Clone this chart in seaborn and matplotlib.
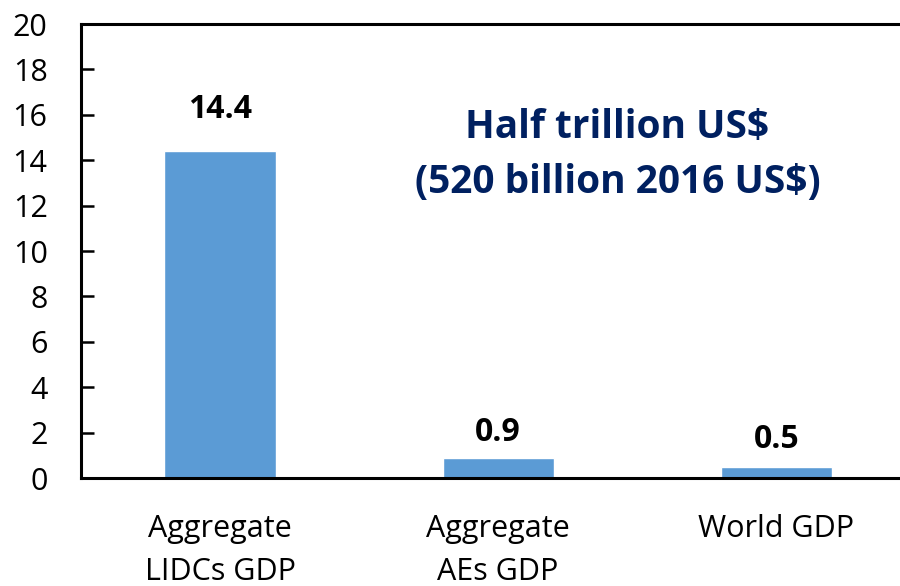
import matplotlib
matplotlib.use("Agg")
import matplotlib.pyplot as plt
import seaborn as sns
import pandas as pd

categories = ["Aggregate\nLIDCs GDP", "Aggregate\nAEs GDP", "World GDP"]
values = [14.4, 0.9, 0.5]
value_labels = ["14.4", "0.9", "0.5"]
y_ticks = [0, 2, 4, 6, 8, 10, 12, 14, 16, 18, 20]
note_lines = ["Half trillion US$", "(520 billion 2016 US$)"]

sns.set_theme(style="white")
plt.rcParams["font.family"] = ["Open Sans", "DejaVu Sans"]

df = pd.DataFrame({"category": categories, "value": values})

fig = plt.figure(figsize=(9, 5.86), dpi=100)
ax = fig.add_axes([0.09, 0.1843, 0.927, 0.7747])

sns.barplot(data=df, x="category", y="value", color="#5B9BD5",
            saturation=1, width=0.4, ax=ax)

ax.set_xlim(-0.5, 2.5)
ax.set_ylim(0, 20)
ax.set_yticks(y_ticks)
ax.set_xlabel("")
ax.set_ylabel("")

for side in ["left", "bottom", "top"]:
    ax.spines[side].set_visible(True)
    ax.spines[side].set_color("black")
    ax.spines[side].set_linewidth(2.2)
ax.spines["right"].set_visible(False)

ax.tick_params(axis="y", direction="in", length=9, width=1.8, color="black",
               labelsize=22, labelcolor="black", pad=24, left=True)
ax.tick_params(axis="x", length=0, labelsize=22, labelcolor="black", pad=26)
for lbl in ax.get_xticklabels():
    lbl.set_linespacing(1.55)

pads = [18, 6, 8]
for i, (v, txt) in enumerate(zip(values, value_labels)):
    ax.annotate(txt, xy=(i, v), xytext=(0, pads[i]),
                textcoords="offset points", ha="center", va="bottom",
                fontsize=23, fontweight="bold", color="black")

ax.text(0.643, 0.773, note_lines[0], transform=ax.transAxes,
        ha="center", va="center", fontsize=28, fontweight="bold", color="#002060")
ax.text(0.643, 0.652, note_lines[1], transform=ax.transAxes,
        ha="center", va="center", fontsize=28, fontweight="bold", color="#002060")

fig.savefig("out.png", dpi=100)
